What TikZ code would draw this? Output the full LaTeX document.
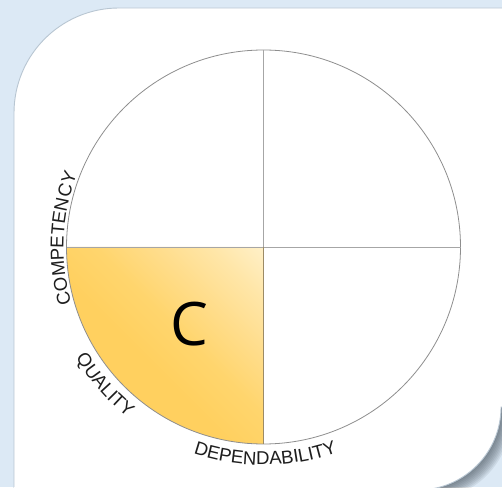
\documentclass[tikz,border=0pt]{standalone}
\usepackage{fontspec}
\usetikzlibrary{decorations.text}
\newfontfamily\lblfont{Liberation Sans}
\newfontfamily\bigfont{Open Sans}
\newcommand\lbl{\lblfont\fontsize{18.6}{20}\selectfont}
\definecolor{bgblue}{HTML}{DCE9F5}
\definecolor{cardedge}{HTML}{B8C6D2}
\definecolor{shadowc}{HTML}{46525C}
\definecolor{ringc}{HTML}{8E8E8E}
\definecolor{axisc}{HTML}{A6A6A6}
\definecolor{qedge}{HTML}{9C8B66}
\definecolor{qA}{HTML}{FFD05F}
\definecolor{qB}{HTML}{FFD56D}
\definecolor{qC}{HTML}{FFDD8C}
\definecolor{qD}{HTML}{FFE6A8}
\definecolor{qE}{HTML}{FFF0C8}
\definecolor{txt}{HTML}{1E1E1E}
\pgfdeclareverticalshading{quadshade}{100bp}{%
  color(0bp)=(qA); color(44bp)=(qA); color(55bp)=(qB);
  color(66bp)=(qC); color(76bp)=(qD); color(85.4bp)=(qE); color(100bp)=(qE)}
\tikzset{
  ring/.style={draw=ringc, line width=0.8pt},
  axis/.style={draw=axisc, line width=0.9pt},
  curvelabel/.style={decorate, decoration={text along path, text align=center, text color=txt}},
}
\newcommand\cardshape[1]{%
  ([shift={#1}]14,-40) -- ([shift={#1}]14,374)
  arc[start angle=180,end angle=90,radius=105] -- ([shift={#1}]530,479)
  -- ([shift={#1}]530,80) -- ([shift={#1}]501,80) arc[start angle=0,end angle=-90,radius=83]
  -- ([shift={#1}]14,-3) -- cycle}
\begin{document}
\begin{tikzpicture}[x=1pt,y=1pt]
\useasboundingbox (0,0) rectangle (502,487);
\fill[bgblue] (0,0) rectangle (502,487);
% shadow
\foreach \i in {1,...,9}{
  \fill[shadowc, opacity=0.1] \cardshape{(1.1*\i,-1.1*\i)};
}
% card
\fill[white, draw=cardedge, line width=0.9pt] \cardshape{(0,0)};
\fill[white] (14.45,-40) rectangle (300,0);
% quadrant
\coordinate (O) at (263.5,240);
\shade[shading=quadshade, shading angle=-45]
  (O) -- ++(-197,0) arc[start angle=180,end angle=270,radius=197] -- cycle;
\draw[ring] (O) circle[radius=197];
\draw[axis] ([yshift=197]O) coordinate (top) -- ([yshift=-197]O) coordinate (bot);
\draw[axis] ([xshift=-197]O) coordinate (lft) -- ([xshift=197]O) coordinate (rgt);
\draw[draw=qedge, line width=0.9pt] (O) -- (bot);
\node[font=\bigfont\fontsize{60}{60}\selectfont, anchor=base, inner sep=0pt, text=black] (c) at (189,142) {C};
% curved labels
\path[curvelabel, decoration={text={|\lbl|COMPETENCY}}]
  ([shift={(217.5:200)}]O) arc[start angle=217.5,end angle=137.5,radius=200];
\path[curvelabel, decoration={text={|\lbl|QUALITY}}]
  ([shift={(191:218)}]O) arc[start angle=191,end angle=251,radius=218];
\path[curvelabel, decoration={text={|\lbl|DEPENDABILITY}}]
  ([shift={(232:218)}]O) arc[start angle=232,end angle=309,radius=218];
\end{tikzpicture}
\end{document}
